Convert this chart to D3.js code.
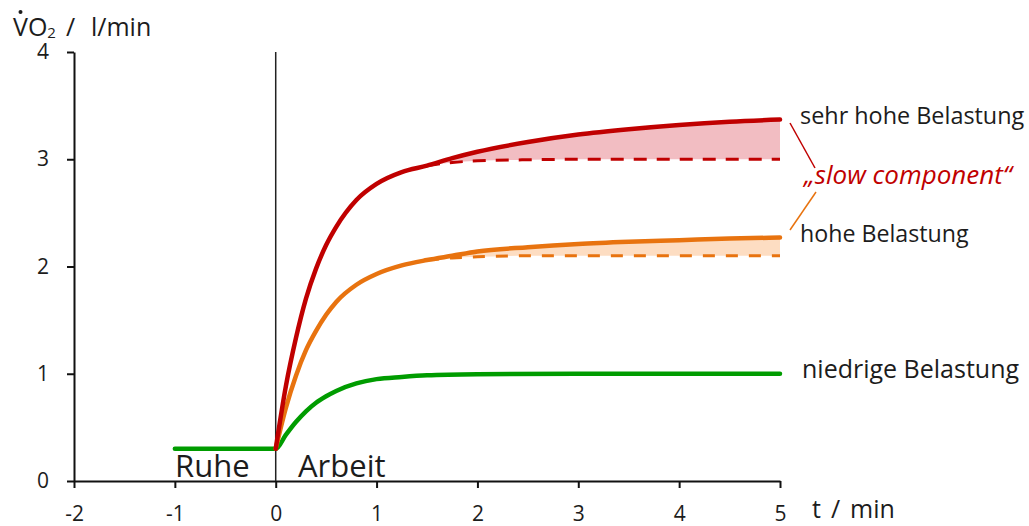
<!DOCTYPE html>
<html>
<head>
<meta charset="utf-8">
<script src="https://cdn.jsdelivr.net/npm/d3@7"></script>
<style>
  html, body { margin: 0; padding: 0; background: #fff; }
  svg { display: block; font-family: "Open Sans", sans-serif; }
</style>
</head>
<body>
<svg id="chart" width="1029" height="526"></svg>
<script>
// ---- data ----
const xTicks = [-2, -1, 0, 1, 2, 3, 4, 5];
const yTicks = [0, 1, 2, 3, 4];

const tGreen   = [-1, 0, 0.1, 0.2, 0.3, 0.4, 0.5, 0.6, 0.8, 1.0, 1.25, 1.5, 2, 3, 4, 5];
const vGreen   = [0.30, 0.30, 0.43, 0.55, 0.65, 0.73, 0.79, 0.84, 0.91, 0.95, 0.97, 0.985, 0.995, 1.0, 1.0, 1.0];

const tOrange  = [0, 0.1, 0.2, 0.3, 0.4, 0.5, 0.6, 0.8, 1.0, 1.25, 1.5, 1.75, 2, 2.5, 3, 3.5, 4, 4.5, 5];
const vOrange  = [0.30, 0.68, 0.98, 1.22, 1.40, 1.55, 1.67, 1.83, 1.93, 2.01, 2.06, 2.10, 2.14, 2.18, 2.21, 2.23, 2.245, 2.26, 2.27];
const tOrangeD = [1.5, 1.75, 2, 2.5, 3, 3.5, 4, 4.5, 5];
const vOrangeD = [2.06, 2.08, 2.09, 2.10, 2.10, 2.10, 2.10, 2.10, 2.10];

const tRed     = [0, 0.1, 0.2, 0.3, 0.4, 0.5, 0.6, 0.8, 1.0, 1.25, 1.5, 1.75, 2, 2.5, 3, 3.5, 4, 4.5, 5];
const vRed     = [0.30, 0.88, 1.33, 1.70, 1.98, 2.20, 2.37, 2.62, 2.77, 2.88, 2.94, 3.01, 3.07, 3.16, 3.23, 3.28, 3.32, 3.35, 3.37];
const tRedD    = [1.5, 1.75, 2, 2.5, 3, 3.5, 4, 4.5, 5];
const vRedD    = [2.94, 2.97, 2.985, 2.995, 3.0, 3.0, 3.0, 3.0, 3.0];

const seriesLabels = ["sehr hohe Belastung", "hohe Belastung", "niedrige Belastung"];
const slowLabel = "\u201Eslow component\u201C";

// ---- drawing ----
const svg = d3.select("#chart");
const x = d3.scaleLinear().domain([-2, 5]).range([74, 780]);
const y = d3.scaleLinear().domain([0, 4]).range([481, 52]);

const RED = "#C00000", RED_FILL = "#F2BDC2";
const ORANGE = "#E8730F", ORANGE_FILL = "#FDDDC2";
const GREEN = "#009C00";
const TEXT = "#1c1c1c";

const zip = (ts, vs) => ts.map((t, i) => ({t, v: vs[i]}));
const line = d3.line().x(d => x(d.t)).y(d => y(d.v)).curve(d3.curveMonotoneX);

function bandPath(upperT, upperV, lowerT, lowerV, from) {
  const up = zip(upperT, upperV).filter(d => d.t >= from);
  const lo = zip(lowerT, lowerV).slice().reverse();
  return line(up) + "L" + line(lo).slice(1) + "Z";
}

// fills
svg.append("path").attr("d", bandPath(tRed, vRed, tRedD, vRedD, 1.5)).attr("fill", RED_FILL);
svg.append("path").attr("d", bandPath(tOrange, vOrange, tOrangeD, vOrangeD, 1.5)).attr("fill", ORANGE_FILL);

// axes
const fmt = d => String(d);
const xAxis = svg.append("g").attr("transform", `translate(0,${y(0)})`)
  .call(d3.axisBottom(x).tickValues(xTicks).tickSize(7).tickSizeOuter(0).tickFormat(fmt));
xAxis.select(".domain").attr("stroke", "#111").attr("stroke-width", 2);
xAxis.selectAll(".tick line").attr("stroke", "#111").attr("stroke-width", 2);
xAxis.selectAll(".tick text").attr("y", 40).attr("dy", null)
  .attr("font-size", 21).attr("font-family", "Open Sans").attr("fill", TEXT);

const yAxis = svg.append("g").attr("transform", `translate(${x(-2)},0)`)
  .call(d3.axisLeft(y).tickValues(yTicks).tickSize(7).tickPadding(18).tickSizeOuter(0).tickFormat(fmt));
yAxis.select(".domain").attr("stroke", "#111").attr("stroke-width", 2);
yAxis.selectAll(".tick line").attr("stroke", "#111").attr("stroke-width", 2);
yAxis.selectAll(".tick text").attr("font-size", 21).attr("font-family", "Open Sans").attr("fill", TEXT);

// vertical line at t = 0
svg.append("line").attr("x1", x(0)).attr("x2", x(0)).attr("y1", y(4)).attr("y2", y(0))
  .attr("stroke", "#222").attr("stroke-width", 1.5);

// dashed baselines
svg.append("path").attr("d", line(zip(tRedD, vRedD))).attr("fill", "none")
  .attr("stroke", RED).attr("stroke-width", 3).attr("stroke-dasharray", "13,10");
svg.append("path").attr("d", line(zip(tOrangeD, vOrangeD))).attr("fill", "none")
  .attr("stroke", ORANGE).attr("stroke-width", 3).attr("stroke-dasharray", "12,11");

// curves
svg.append("path").attr("d", line(zip(tGreen, vGreen))).attr("fill", "none")
  .attr("stroke", GREEN).attr("stroke-width", 4.5).attr("stroke-linecap", "round");
svg.append("path").attr("d", line(zip(tOrange, vOrange))).attr("fill", "none")
  .attr("stroke", ORANGE).attr("stroke-width", 4.5).attr("stroke-linecap", "round");
svg.append("path").attr("d", line(zip(tRed, vRed))).attr("fill", "none")
  .attr("stroke", RED).attr("stroke-width", 4.5).attr("stroke-linecap", "round");

// labels
const lab = (txt, xx, yy, opts = {}) => svg.append("text").attr("x", xx).attr("y", yy)
  .attr("font-family", "Open Sans").attr("font-size", opts.size || 24)
  .attr("fill", opts.fill || TEXT).attr("font-style", opts.style || "normal").text(txt);

lab(seriesLabels[0], 800, 124, {size: 23.4});
lab(seriesLabels[1], 800, 242, {size: 23.2});
lab(seriesLabels[2], 802, 378, {size: 25});
lab(slowLabel, 804, 184, {fill: RED, style: "italic", size: 26});

// connectors
svg.append("line").attr("x1", 790).attr("y1", 123).attr("x2", 815).attr("y2", 168)
  .attr("stroke", RED).attr("stroke-width", 1.5);
svg.append("line").attr("x1", 816).attr("y1", 192).attr("x2", 790).attr("y2", 230)
  .attr("stroke", ORANGE).attr("stroke-width", 1.5);

// phase labels
lab("Ruhe", 175, 477, {size: 31});
lab("Arbeit", 298, 477, {size: 31});

// axis titles
const xt = svg.append("text").attr("x", 812).attr("y", 518)
  .attr("font-family", "Open Sans").attr("font-size", 25).attr("fill", TEXT);
xt.append("tspan").text("t");
xt.append("tspan").attr("dx", 10).text("/");
xt.append("tspan").attr("dx", 10).text("min");

const yt = svg.append("text").attr("x", 13).attr("y", 36)
  .attr("font-family", "Open Sans").attr("font-size", 25).attr("fill", TEXT);
yt.append("tspan").text("V");
yt.append("tspan").text("O");
yt.append("tspan").attr("font-size", 15).attr("dy", 2).text("2");
yt.append("tspan").attr("dy", -2).attr("dx", 10).text("/");
yt.append("tspan").attr("x", 91).text("l/min");
svg.append("circle").attr("cx", 20.5).attr("cy", 12).attr("r", 2).attr("fill", TEXT);
</script>
</body>
</html>
